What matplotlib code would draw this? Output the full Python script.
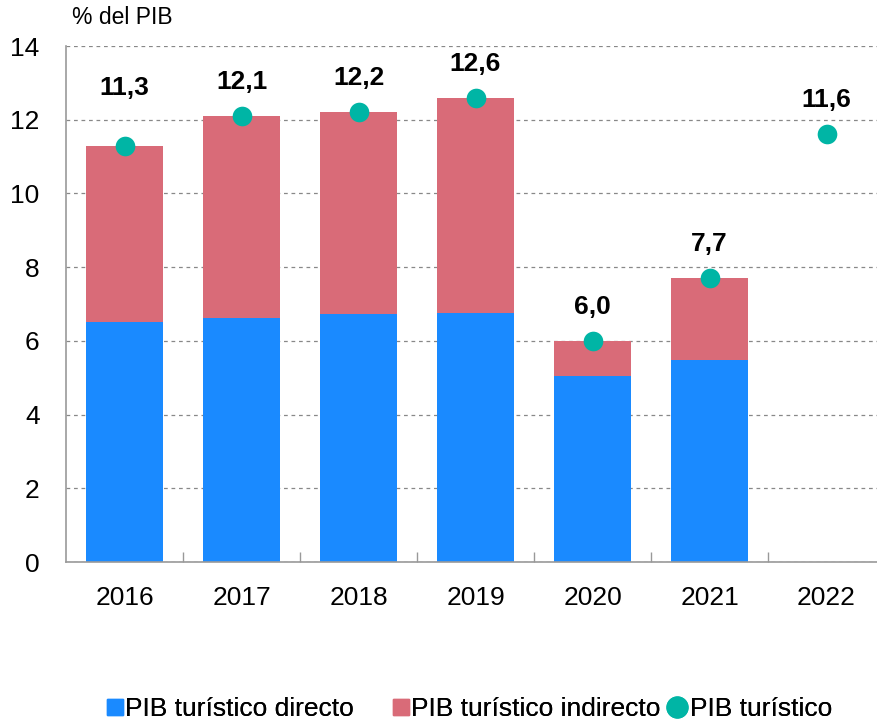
import matplotlib
matplotlib.use("Agg")
import matplotlib.pyplot as plt
from matplotlib.lines import Line2D
import numpy as np

plt.rcParams['font.family'] = ['Liberation Sans', 'DejaVu Sans']

years = ["2016", "2017", "2018", "2019", "2020", "2021", "2022"]
directo = [6.51, 6.62, 6.73, 6.76, 5.05, 5.48, np.nan]
total = [11.3, 12.1, 12.2, 12.6, 6.0, 7.7, 11.6]
labels = ["11,3", "12,1", "12,2", "12,6", "6,0", "7,7", "11,6"]
indirecto = [t - d if not np.isnan(d) else np.nan for t, d in zip(total, directo)]

c_dir = "#1a8aff"
c_ind = "#d96b78"
c_tot = "#00b5a5"

fig = plt.figure(figsize=(8.78, 7.24), dpi=100)
ax = fig.add_axes([66/878, 1 - 562/724, (878-66)/878, 516/724])

x = np.arange(len(years))
w = 0.66
ax.bar(x, directo, width=w, color=c_dir, zorder=2)
ax.bar(x, indirecto, width=w, bottom=directo, color=c_ind, zorder=2)
ax.scatter(x, total, s=200, color=c_tot, zorder=3, linewidths=0)

for i, (t, lab) in enumerate(zip(total, labels)):
    off = 34 if i != 0 else 58
    ax.annotate(lab, (x[i], t), xytext=(0, off), textcoords="offset pixels",
                ha="center", va="center", fontsize=19, fontweight="bold")

ax.set_ylim(0, 14)
ax.set_xlim(-0.5, 6.44)
ax.set_yticks(range(0, 15, 2))
ax.yaxis.grid(True, linestyle=(0, (3, 3)), color="#888888", linewidth=0.9, zorder=0)
ax.set_axisbelow(True)

ax.set_xticks(x)
ax.set_xticklabels(years, fontsize=19)
ax.tick_params(axis="x", length=0, pad=17)
ax.set_xticks(np.arange(0.5, 6, 1), minor=True)
ax.tick_params(axis="x", which="minor", direction="in", length=7, color="#999999", width=1)
ax.tick_params(axis="y", length=0, labelsize=19, pad=19)

for s in ["top", "right"]:
    ax.spines[s].set_visible(False)
for s in ["left", "bottom"]:
    ax.spines[s].set_color("#999999")
    ax.spines[s].set_linewidth(1.2)

fig.text(72/878, 1 - 18/724, "% del PIB", fontsize=16.5, va="center", ha="left")

items = [
    (Line2D([], [], marker="s", linestyle="none", markersize=11, color=c_dir, label="PIB turístico directo"), 107, 0.6, 0.08),
    (Line2D([], [], marker="s", linestyle="none", markersize=11, color=c_ind, label="PIB turístico indirecto"), 393, 0.6, 0.08),
    (Line2D([], [], marker="o", linestyle="none", markersize=15, color=c_tot, label="PIB turístico"), 667, 0.76, 0.11),
]
for h, xl, hl, tp in items:
    leg = fig.legend(handles=[h], loc="center left", bbox_to_anchor=(xl/878, 1 - 709/724),
                     frameon=False, fontsize=19, handletextpad=tp, handlelength=hl,
                     borderpad=0, borderaxespad=0)
    fig.add_artist(leg)

fig.savefig("out.png", dpi=100)
